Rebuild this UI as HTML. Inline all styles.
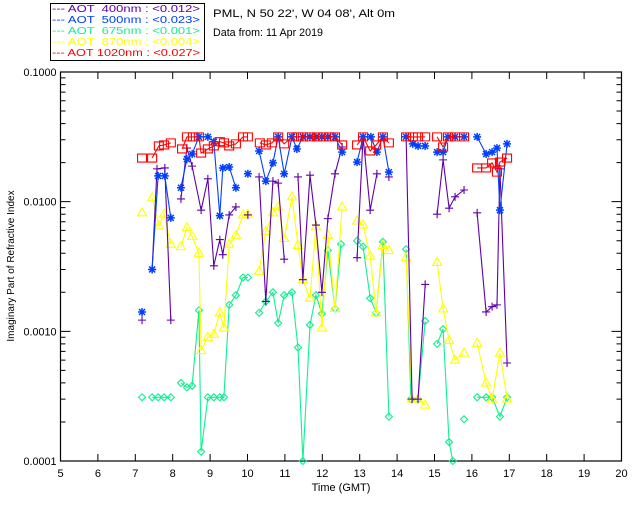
<!DOCTYPE html>
<html><head><meta charset="utf-8">
<style>
html,body{margin:0;padding:0;background:#fff;}
svg{display:block;font-family:"Liberation Sans",sans-serif;}
</style></head>
<body>
<svg id="chart" width="640" height="512" viewBox="0 0 640 512">
<rect x="0" y="0" width="640" height="512" fill="#fff"/>
<g>
<rect x="50.5" y="3.5" width="154" height="57" fill="none" stroke="#000"/>
<g font-size="10">
<text x="52" y="12" fill="#6000a8" textLength="148" lengthAdjust="spacingAndGlyphs" xml:space="preserve">--- AOT  400nm : &lt;0.012&gt;</text>
<text x="52" y="23" fill="#0040ff" textLength="148" lengthAdjust="spacingAndGlyphs" xml:space="preserve">--- AOT  500nm : &lt;0.023&gt;</text>
<text x="52" y="34" fill="#10f090" textLength="148" lengthAdjust="spacingAndGlyphs" xml:space="preserve">--- AOT  675nm : &lt;0.001&gt;</text>
<text x="52" y="45" fill="#ffff00" textLength="148" lengthAdjust="spacingAndGlyphs" xml:space="preserve">--- AOT  870nm : &lt;0.004&gt;</text>
<text x="52" y="56" fill="#ff0000" textLength="148" lengthAdjust="spacingAndGlyphs" xml:space="preserve">--- AOT 1020nm : &lt;0.027&gt;</text>
</g></g>
<text x="213" y="17" font-size="11" textLength="182" lengthAdjust="spacingAndGlyphs">PML, N 50 22', W 04 08', Alt 0m</text>
<text x="213" y="36" font-size="11" textLength="110" lengthAdjust="spacingAndGlyphs">Data from: 11 Apr 2019</text>
<text x="341" y="491" font-size="11" text-anchor="middle">Time (GMT)</text>
<text transform="translate(14,266) rotate(-90)" font-size="10" text-anchor="middle">Imaginary Part of Refractive Index</text>
<g id="axes"></g>
<g id="series"></g>
</svg>
<script>
const xTicks=[5,6,7,8,9,10,11,12,13,14,15,16,17,18,19,20];
const yTicks=[0.0001,0.001,0.01,0.1];
const yTickLabels=["0.0001","0.0010","0.0100","0.1000"];

const t400=[7.18,7.45,7.58,7.79,7.95,8.22,8.38,8.52,8.76,8.94,9.10,9.26,9.34,9.51,9.69,10.01,10.31,10.49,10.68,10.82,10.98,11.35,11.48,11.67,11.83,11.99,12.15,12.34,12.53,12.93,13.09,13.28,13.46,13.78,14.24,14.40,14.56,14.75,15.07,15.23,15.39,15.55,15.79,16.14,16.38,16.54,16.67,16.75,16.94];
const v400=[0.00122,0.0030,0.0179,0.0182,0.00122,0.0105,0.0259,0.0188,0.0086,0.0150,0.0032,0.0051,0.0039,0.0079,0.0091,0.0079,0.0155,0.0017,0.0144,0.0139,0.0036,0.0155,0.0025,0.0160,0.0066,0.0020,0.0074,0.0164,0.0264,0.0037,0.0316,0.0086,0.0164,0.0155,0.0316,0.0003,0.0003,0.0023,0.0080,0.0210,0.0089,0.0109,0.0123,0.0082,0.00141,0.00155,0.0016,0.0179,0.00057];

const t500=[7.18,7.45,7.61,7.79,7.95,8.22,8.38,8.52,8.70,8.94,9.10,9.26,9.34,9.51,9.69,10.01,10.31,10.49,10.68,10.82,10.98,11.19,11.32,11.48,11.67,11.83,11.99,12.15,12.34,12.53,12.93,13.09,13.30,13.46,13.62,13.78,14.24,14.42,14.56,14.75,15.07,15.23,15.36,15.55,15.79,16.14,16.38,16.54,16.67,16.75,16.94];
const v500=[0.00141,0.0030,0.0158,0.0158,0.0075,0.0128,0.0213,0.0233,0.0316,0.0316,0.0290,0.0078,0.0182,0.0185,0.0128,0.0164,0.0246,0.0144,0.0199,0.0316,0.0164,0.0316,0.0255,0.0316,0.0316,0.0316,0.0316,0.0316,0.0316,0.0241,0.0202,0.0316,0.0316,0.0241,0.0316,0.0169,0.0316,0.0279,0.0269,0.0269,0.0241,0.0241,0.0316,0.0316,0.0316,0.0316,0.0233,0.0241,0.0259,0.0086,0.0279];

const t675=[7.18,7.45,7.61,7.77,7.95,8.22,8.38,8.52,8.70,8.76,8.94,9.10,9.26,9.37,9.51,9.69,9.88,10.01,10.31,10.49,10.68,10.82,10.98,11.19,11.35,11.48,11.67,11.83,11.99,12.15,12.34,12.50,12.93,13.09,13.28,13.44,13.62,13.78,14.24,14.37,14.56,14.75,15.07,15.23,15.39,15.49,15.79,16.14,16.38,16.54,16.75,16.94];
const v675=[0.00031,0.00031,0.00031,0.00031,0.00031,0.00040,0.00037,0.00038,0.00145,0.000118,0.00031,0.00031,0.00031,0.00031,0.0016,0.0019,0.0026,0.0026,0.00139,0.0017,0.0020,0.00116,0.0019,0.0020,0.00075,0.0001,0.00112,0.0019,0.00137,0.0042,0.0015,0.0047,0.0050,0.0045,0.0018,0.00139,0.0049,0.00022,0.0043,0.0003,0.0003,0.0012,0.00080,0.00104,0.00014,0.0001,0.00021,0.00031,0.00031,0.00031,0.00022,0.00031];

const t870=[7.18,7.45,7.63,7.77,7.95,8.22,8.38,8.52,8.70,8.76,8.94,9.10,9.26,9.37,9.51,9.69,9.88,10.01,10.31,10.49,10.68,10.82,10.98,11.19,11.35,11.48,11.67,11.83,11.99,12.15,12.34,12.53,12.93,13.09,13.28,13.44,13.62,13.78,14.24,14.40,14.56,14.75,15.07,15.23,15.39,15.55,15.79,16.14,16.38,16.54,16.75,16.94];
const v870=[0.0082,0.0107,0.0065,0.0080,0.0047,0.0045,0.0063,0.0054,0.0040,0.00071,0.00090,0.00095,0.00139,0.00106,0.0047,0.0055,0.0079,0.0080,0.0029,0.0059,0.0082,0.0091,0.0052,0.0109,0.0046,0.0025,0.0018,0.0064,0.00106,0.0055,0.0015,0.0091,0.0071,0.0066,0.0038,0.00139,0.0046,0.0042,0.0037,0.0003,0.0003,0.00027,0.0034,0.00149,0.00085,0.00060,0.00068,0.00081,0.00040,0.0003,0.00068,0.0003];

const t1020=[7.18,7.45,7.63,7.77,7.95,8.25,8.38,8.54,8.70,8.76,8.94,9.10,9.26,9.37,9.51,9.69,9.88,10.01,10.33,10.49,10.65,10.82,10.98,11.19,11.35,11.48,11.67,11.86,12.02,12.18,12.34,12.53,12.93,13.09,13.28,13.44,13.62,13.78,14.24,14.42,14.56,14.75,15.07,15.23,15.36,15.55,15.79,16.14,16.38,16.54,16.67,16.75,16.94];
const v1020=[0.0217,0.0217,0.0269,0.0274,0.0284,0.0255,0.0316,0.0316,0.0316,0.0237,0.0255,0.0269,0.0290,0.0284,0.0269,0.0279,0.0316,0.0316,0.0284,0.0274,0.0284,0.0316,0.0279,0.0316,0.0316,0.0316,0.0316,0.0316,0.0316,0.0316,0.0316,0.0274,0.0274,0.0316,0.0246,0.0274,0.0316,0.0284,0.0316,0.0316,0.0316,0.0316,0.0316,0.0264,0.0316,0.0316,0.0316,0.0182,0.0182,0.0199,0.0169,0.0202,0.0217];

const X0=60.5,X1=621.5,Y0=461,Y1=72;
function xs(h){return X0+(h-5)/(20-5)*(X1-X0);}
function ys(v){return Y0-(Math.log10(v)+4)/3*(Y0-Y1);}
const NS="http://www.w3.org/2000/svg";
function mk(tag,attrs,parent){const e=document.createElementNS(NS,tag);for(const k in attrs)e.setAttribute(k,attrs[k]);parent.appendChild(e);return e;}

const axes=document.getElementById('axes');
const frame=mk('rect',{x:X0,y:Y1,width:X1-X0,height:Y0-Y1,fill:'none',stroke:'#000','stroke-width':1.2},axes);


xTicks.forEach(function(h){
  const x=xs(h);
  const tk=mk('path',{d:'M'+x+' '+Y0+'V'+(Y0-7)+'M'+x+' '+Y1+'V'+(Y1+7),stroke:'#000','stroke-width':1},axes);
  
  
  const lb=mk('text',{x:x,y:Y0+16,'font-size':11,'text-anchor':'middle'},axes);
  lb.textContent=String(h);
  
  
});
yTicks.forEach(function(v,i){
  const y=ys(v);
  const tk=mk('path',{d:'M'+X0+' '+y+'H'+(X0+10)+'M'+X1+' '+y+'H'+(X1-10),stroke:'#000','stroke-width':1},axes);
  
  
  const lb=mk('text',{x:X0-4,y:y+4,'font-size':11,'text-anchor':'end',textLength:33,lengthAdjust:'spacingAndGlyphs'},axes);
  lb.textContent=yTickLabels[i];
  
  
  if(i<yTicks.length-1){
    for(let m=2;m<=9;m++){
      const yy=ys(v*m);
      const mt=mk('path',{d:'M'+X0+' '+yy+'H'+(X0+5)+'M'+X1+' '+yy+'H'+(X1-5),stroke:'#000','stroke-width':1},axes);
      
      
    }
  }
});

const series=document.getElementById('series');
function marker(kind,x,y,c,g){
  let d;
  if(kind==='plus') d='M'+(x-4)+' '+y+'H'+(x+4)+'M'+x+' '+(y-4)+'V'+(y+4);
  else if(kind==='star') d='M'+(x-4)+' '+y+'H'+(x+4)+'M'+x+' '+(y-4)+'V'+(y+4)+'M'+(x-3)+' '+(y-3)+'L'+(x+3)+' '+(y+3)+'M'+(x-3)+' '+(y+3)+'L'+(x+3)+' '+(y-3);
  else if(kind==='diamond') d='M'+x+' '+(y-3.5)+'L'+(x+3.5)+' '+y+'L'+x+' '+(y+3.5)+'L'+(x-3.5)+' '+y+'Z';
  else if(kind==='tri') d='M'+x+' '+(y-5)+'L'+(x+4.5)+' '+(y+3)+'L'+(x-4.5)+' '+(y+3)+'Z';
  else d='M'+(x-4.5)+' '+(y-4)+'H'+(x+4.5)+'V'+(y+4)+'H'+(x-4.5)+'Z';
  const p=mk('path',{d:d,fill:'none',stroke:c,'stroke-width':kind==='star'?1.5:1.1},g);
  
  
}
function drawSeries(t,v,c,kind,name){
  const g=mk('g',{},series);
  
  
  let d='';
  for(let i=0;i<t.length;i++){
    const x=xs(t[i]),y=ys(v[i]);
    d+=(i===0||t[i]-t[i-1]>0.26?'M':'L')+x.toFixed(1)+' '+y.toFixed(1);
  }
  const ln=mk('path',{d:d,fill:'none',stroke:c,'stroke-width':1.1},g);
  
  
  for(let i=0;i<t.length;i++) marker(kind,xs(t[i]),ys(v[i]),c,g);
}
drawSeries(t675,v675,'#10f090','diamond','series-675nm');
drawSeries(t870,v870,'#ffff00','tri','series-870nm');
drawSeries(t400,v400,'#6000a8','plus','series-400nm');
drawSeries(t500,v500,'#0040ff','star','series-500nm');
drawSeries(t1020,v1020,'#ff0000','square','series-1020nm');
</script>
</body></html>
